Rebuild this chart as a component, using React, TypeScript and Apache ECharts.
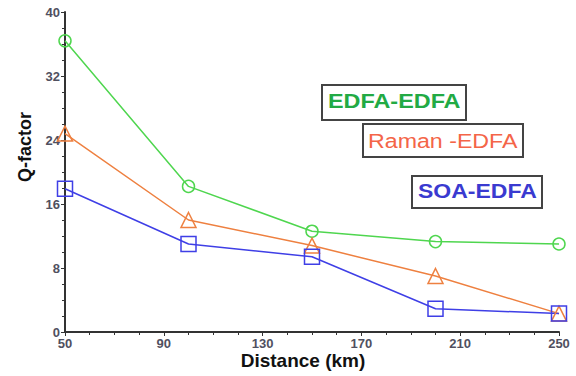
import React, { useEffect, useRef } from "react";
import * as echarts from "echarts";

const distances = [50, 100, 150, 200, 250];
const edfaEdfa = [36.4, 18.2, 12.6, 11.3, 11.0];
const ramanEdfa = [24.8, 14.0, 10.8, 7.0, 2.3];
const soaEdfa = [17.9, 11.0, 9.4, 2.9, 2.3];
const seriesNames = ["EDFA-EDFA", "Raman -EDFA", "SOA-EDFA"];
const xTitle = "Distance (km)";
const yTitle = "Q-factor";

export default function App() {
  const ref = useRef<HTMLDivElement>(null);
  useEffect(() => {
    const chart = echarts.init(ref.current!, null, { renderer: "svg" });
    const mk = (name: string, vals: number[], color: string, symbol: string, size: number) => ({
      name,
      type: "line",
      data: distances.map((d, i) => [d, vals[i]]),
      symbol,
      symbolSize: size,
      showAllSymbol: true,
      lineStyle: { color, width: 1.5 },
      itemStyle: { color: "rgba(255,255,255,0)", borderColor: color, borderWidth: 1.5 },
      z: 3,
    });
    const font = "Arial, 'Liberation Sans', sans-serif";
    chart.setOption({
      animation: false,
      backgroundColor: "#fff",
      grid: { left: 65, right: 17, top: 12, bottom: 44 },
      xAxis: {
        type: "value",
        min: 50,
        max: 250,
        interval: 40,
        axisLine: { lineStyle: { color: "#333", width: 2 } },
        axisTick: { show: true, length: 4, lineStyle: { color: "#333" } },
        minorTick: { show: true, splitNumber: 4, length: 3, lineStyle: { color: "#333" } },
        axisLabel: { fontFamily: font, fontSize: 13, color: "#505060", margin: 5, fontWeight: "bold" },
        splitLine: { show: false },
      },
      yAxis: {
        type: "value",
        min: 0,
        max: 40,
        interval: 8,
        axisLine: { show: true, lineStyle: { color: "#333", width: 2 } },
        axisTick: { show: true, length: 4, lineStyle: { color: "#333" } },
        minorTick: { show: true, splitNumber: 4, length: 3, lineStyle: { color: "#333" } },
        axisLabel: { fontFamily: font, fontSize: 13, color: "#505060", margin: 5, fontWeight: "bold" },
        splitLine: { show: false },
      },
      series: [
        mk(seriesNames[0], edfaEdfa, "#4fd64f", "circle", 12),
        mk(seriesNames[1], ramanEdfa, "#ee8040", "triangle", 15),
        mk(seriesNames[2], soaEdfa, "#3f3fe6", "rect", 15),
      ],
      graphic: [
        { type: "text", x: 303, y: 360, style: { text: xTitle, fill: "#111", font: `bold 19px ${font}`, align: "center", verticalAlign: "middle" } },
        { type: "text", x: 25, y: 147, rotation: Math.PI / 2, style: { text: yTitle, fill: "#111", font: `bold 18px ${font}`, align: "center", verticalAlign: "middle" } },
        { type: "rect", shape: { x: 322, y: 85, width: 144, height: 35 }, style: { fill: "#fff", stroke: "#444", lineWidth: 2 } },
        { type: "text", x: 328, y: 101, scaleX: 1.17, style: { text: seriesNames[0], fill: "#22aa44", font: `bold 20px ${font}`, align: "left", verticalAlign: "middle" } },
        { type: "rect", shape: { x: 363, y: 124, width: 160, height: 33 }, style: { fill: "#fff", stroke: "#444", lineWidth: 2 } },
        { type: "text", x: 368, y: 141, scaleX: 1.16, style: { text: seriesNames[1], fill: "#f46548", font: `20px ${font}`, align: "left", verticalAlign: "middle" } },
        { type: "rect", shape: { x: 412, y: 176, width: 130, height: 32 }, style: { fill: "#fff", stroke: "#444", lineWidth: 2 } },
        { type: "text", x: 418, y: 191, scaleX: 1.15, style: { text: seriesNames[2], fill: "#3a3ad0", font: `bold 20px ${font}`, align: "left", verticalAlign: "middle" } },
      ],
    });
    return () => chart.dispose();
  }, []);
  return <div ref={ref} style={{ width: 576, height: 376, position: "absolute", left: 0, top: 0 }} />;
}
